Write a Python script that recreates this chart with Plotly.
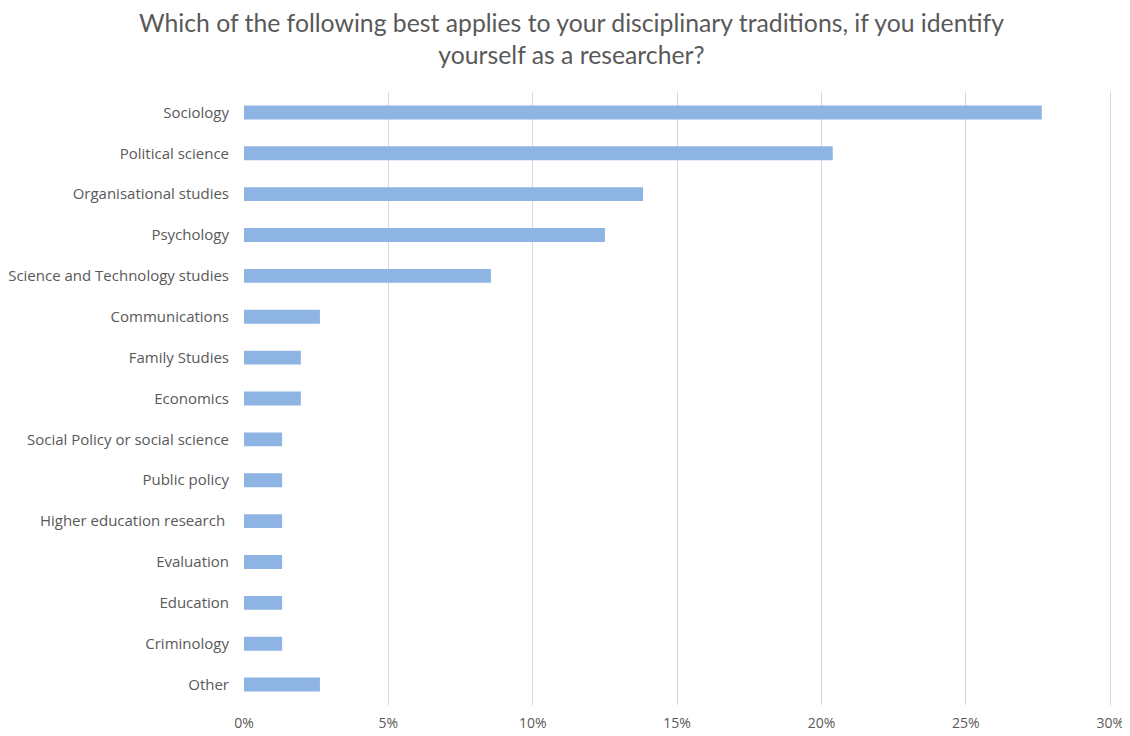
import plotly.graph_objects as go

categories = ["Sociology", "Political science", "Organisational studies", "Psychology",
              "Science and Technology studies", "Communications", "Family Studies", "Economics",
              "Social Policy or social science", "Public policy", "Higher education research ",
              "Evaluation", "Education", "Criminology", "Other"]
values = [27.63, 20.39, 13.82, 12.50, 8.55, 2.63, 1.97, 1.97, 1.32, 1.32, 1.32, 1.32, 1.32, 1.32, 2.63]
tick_vals = [0, 5, 10, 15, 20, 25, 30]
tick_text = ["0%", "5%", "10%", "15%", "20%", "25%", "30%"]
title_text = "Which of the following best applies to your disciplinary traditions, if you identify<br>yourself as a researcher?"

fig = go.Figure(go.Bar(
    y=categories, x=values, orientation="h",
    marker=dict(color="#8EB4E3", line=dict(width=0)),
    width=0.34,
))

fig.update_layout(
    width=1122, height=728,
    paper_bgcolor="white", plot_bgcolor="white",
    margin=dict(l=236, r=14, t=84, b=31, autoexpand=False),
    font=dict(family="Open Sans, sans-serif", size=14, color="#595959"),
    showlegend=False,
    annotations=[dict(text=title_text, xref="paper", yref="paper", x=0.3761, y=1.0875,
                      xanchor="center", yanchor="middle", showarrow=False, align="center",
                      font=dict(family="Lato, Open Sans, sans-serif", size=24.75, color="#595959"))],
)
fig.update_xaxes(range=[0, 30.2], tickvals=tick_vals, ticktext=tick_text,
                 showgrid=True, gridcolor="#D9D9D9", gridwidth=1,
                 zeroline=False, showline=False, ticks="outside", ticklen=5,
                 tickcolor="rgba(0,0,0,0)", automargin=False,
                 tickfont=dict(size=14, color="#595959"))
fig.update_yaxes(autorange="reversed", showgrid=False, zeroline=False, showline=False,
                 ticks="", ticklabelstandoff=14, automargin=False,
                 tickfont=dict(size=15, color="#595959"))

fig.write_html("out.html")
